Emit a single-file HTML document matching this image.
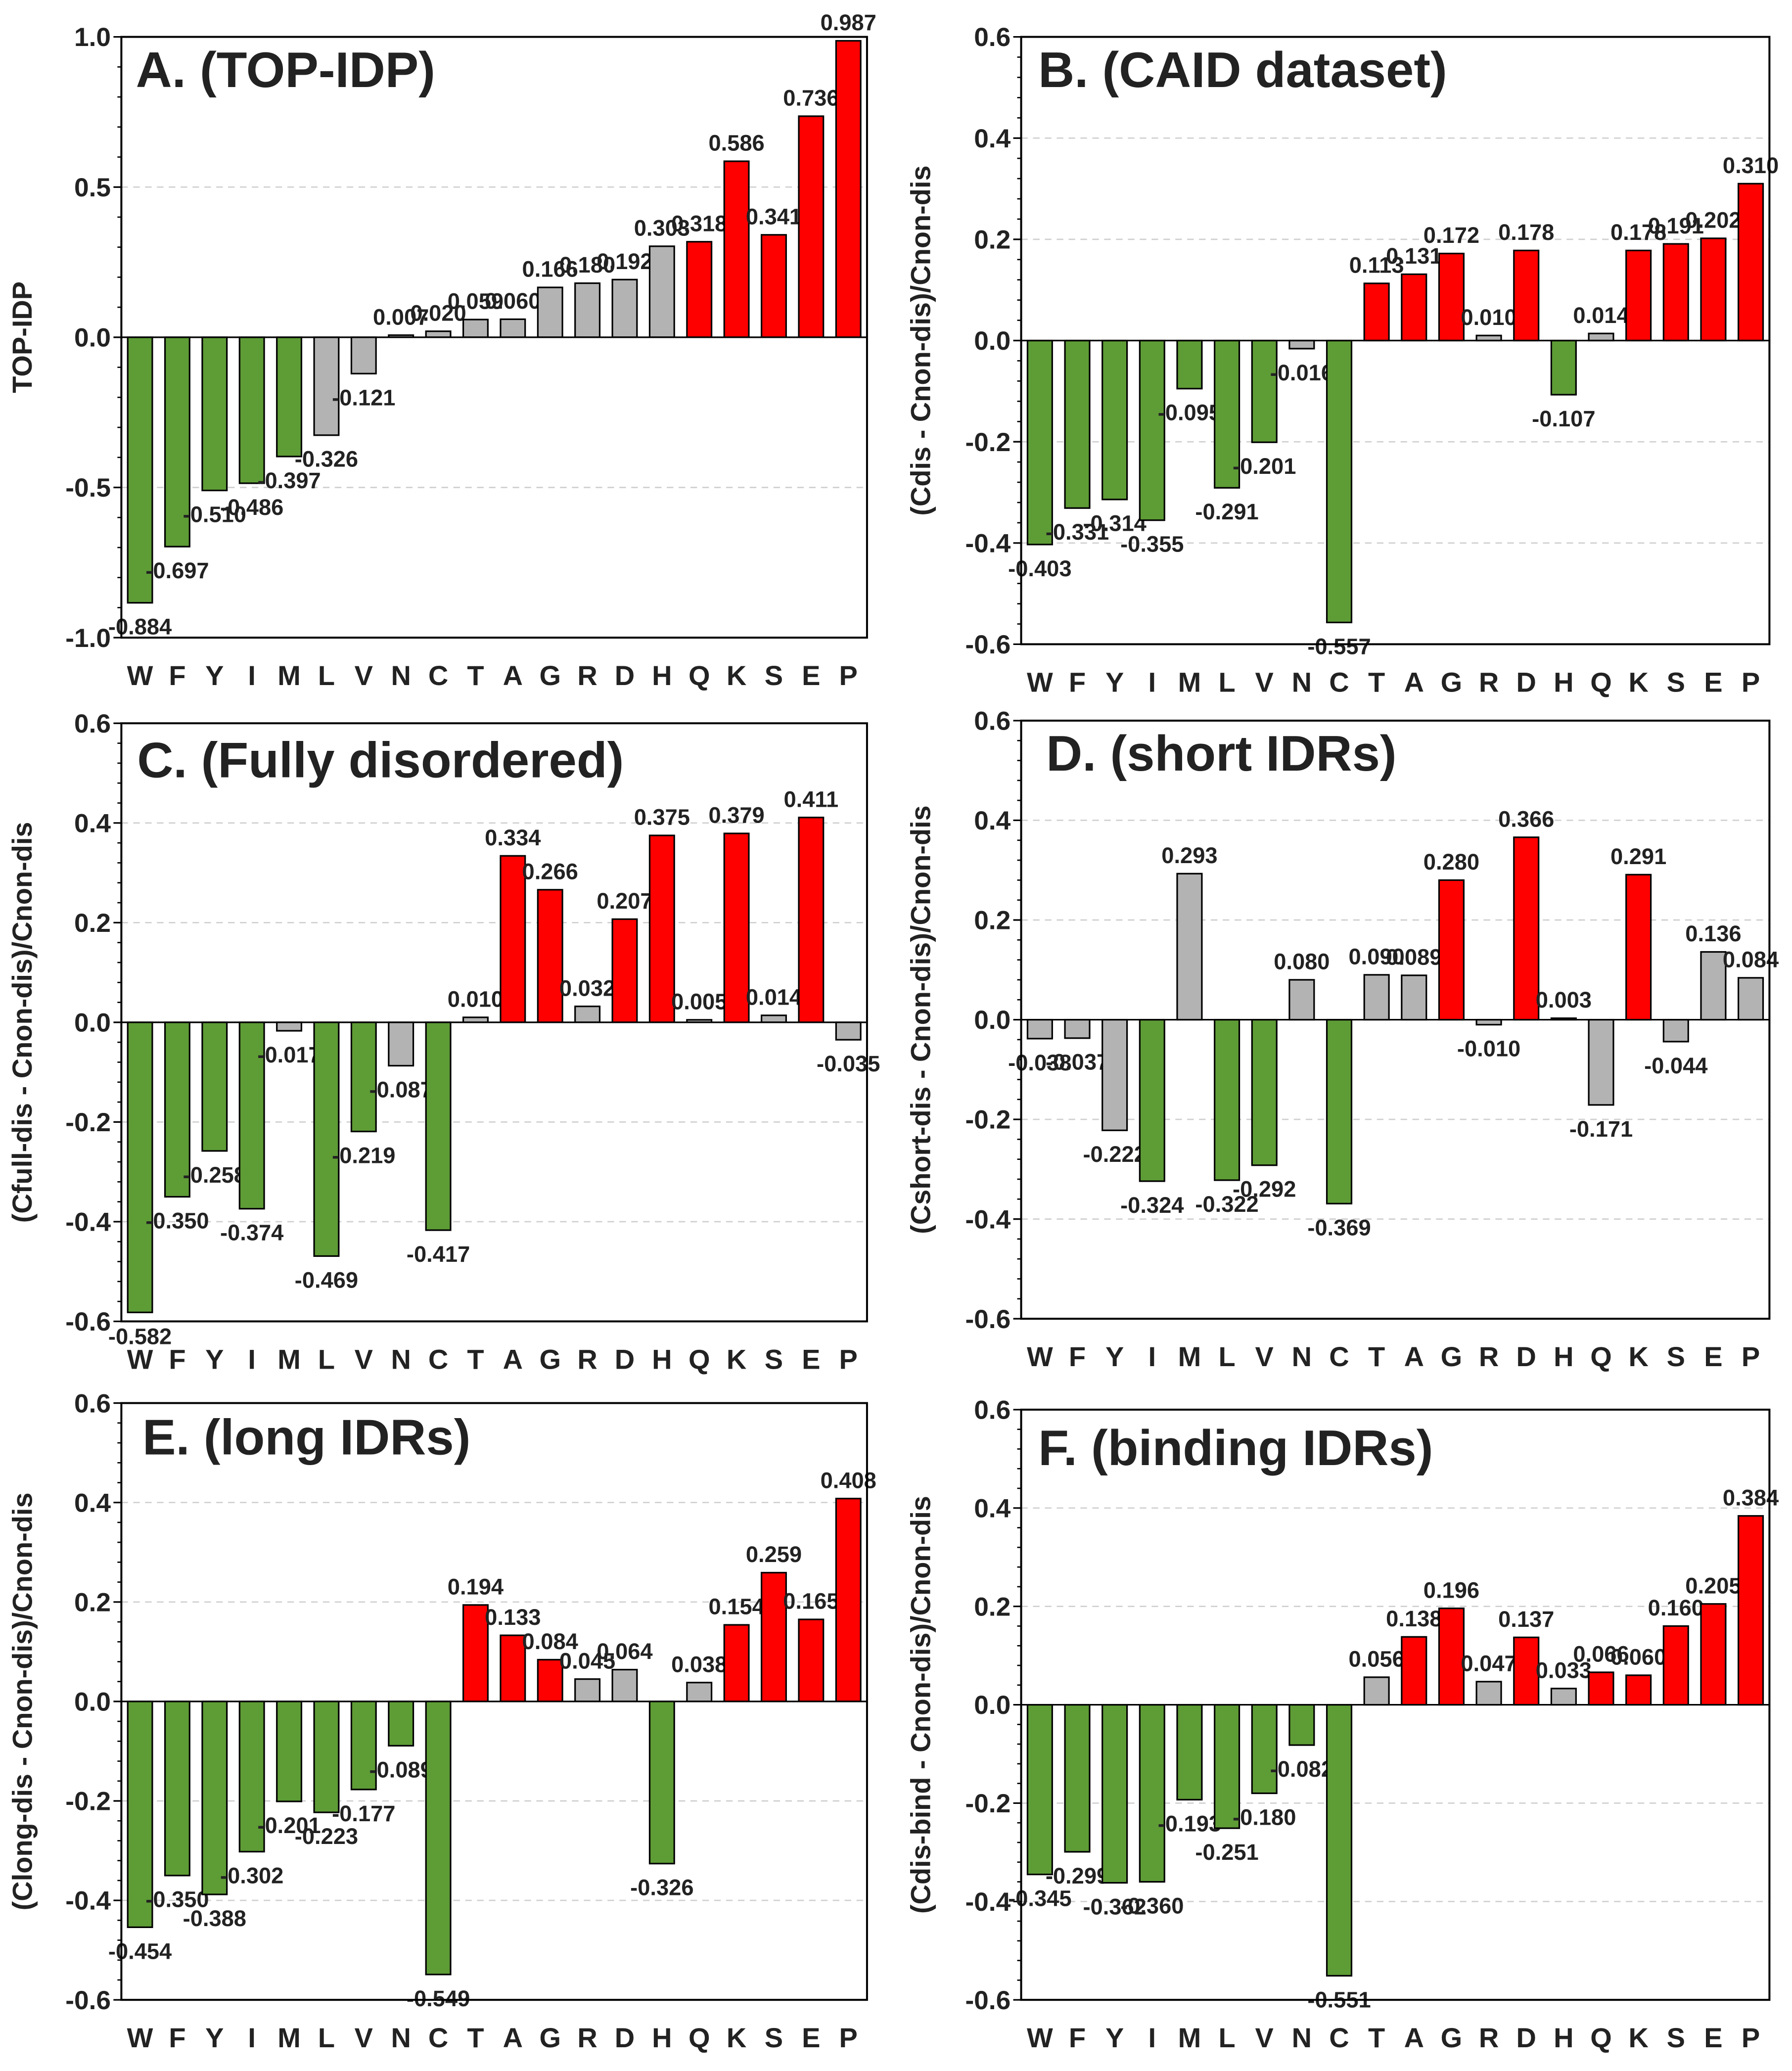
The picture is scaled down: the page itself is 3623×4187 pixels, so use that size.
<!DOCTYPE html>
<html><head><meta charset="utf-8"><style>
html,body{margin:0;padding:0;background:#fff}
svg{display:block}
text{font-family:"Liberation Sans",sans-serif;font-weight:bold;fill:#222}
</style></head><body>
<svg id="chart" width="3623" height="4187" viewBox="0 0 1360 1572" xmlns="http://www.w3.org/2000/svg"></svg>
<script>
const categories=["W","F","Y","I","M","L","V","N","C","T","A","G","R","D","H","Q","K","S","E","P"];
const valuesA=[-0.884,-0.697,-0.510,-0.486,-0.397,-0.326,-0.121,0.007,0.020,0.059,0.060,0.166,0.180,0.192,0.303,0.318,0.586,0.341,0.736,0.987];
const classA=["g","g","g","g","g","n","n","n","n","n","n","n","n","n","n","r","r","r","r","r"];
const valuesB=[-0.403,-0.331,-0.314,-0.355,-0.095,-0.291,-0.201,-0.016,-0.557,0.113,0.131,0.172,0.010,0.178,-0.107,0.014,0.178,0.191,0.202,0.310];
const classB=["g","g","g","g","g","g","g","n","g","r","r","r","n","r","g","n","r","r","r","r"];
const valuesC=[-0.582,-0.350,-0.258,-0.374,-0.017,-0.469,-0.219,-0.087,-0.417,0.010,0.334,0.266,0.032,0.207,0.375,0.005,0.379,0.014,0.411,-0.035];
const classC=["g","g","g","g","n","g","g","n","g","n","r","r","n","r","r","n","r","n","r","n"];
const valuesD=[-0.038,-0.037,-0.222,-0.324,0.293,-0.322,-0.292,0.080,-0.369,0.090,0.089,0.280,-0.010,0.366,0.003,-0.171,0.291,-0.044,0.136,0.084];
const classD=["n","n","n","g","n","g","g","n","g","n","n","r","n","r","n","n","r","n","n","n"];
const valuesE=[-0.454,-0.350,-0.388,-0.302,-0.201,-0.223,-0.177,-0.089,-0.549,0.194,0.133,0.084,0.045,0.064,-0.326,0.038,0.154,0.259,0.165,0.408];
const classE=["g","g","g","g","g","g","g","g","g","r","r","r","n","n","g","n","r","r","r","r"];
const valuesF=[-0.345,-0.299,-0.362,-0.360,-0.193,-0.251,-0.180,-0.082,-0.551,0.056,0.138,0.196,0.047,0.137,0.033,0.066,0.060,0.160,0.205,0.384];
const classF=["g","g","g","g","g","g","g","g","g","n","r","r","n","r","n","r","r","r","r","r"];
const ticksA=["1.0","0.5","0.0","-0.5","-1.0"];
const ticksOther=["0.6","0.4","0.2","0.0","-0.2","-0.4","-0.6"];

const NS="http://www.w3.org/2000/svg";
const svg=document.getElementById("chart");
const COL={g:"#5e9c36",r:"#ff0000",n:"#b3b3b3"};
function mk(tag,attrs,parent){const e=document.createElementNS(NS,tag);for(const k in attrs)e.setAttribute(k,attrs[k]);(parent||svg).appendChild(e);return e;}

const panels=[
 {id:"a",x0:92,x1:658,yTop:28,yBot:484,max:1,min:-1,ticks:ticksA,vals:valuesA,cls:classA,title:"A. (TOP-IDP)",tx:103,ty:66,ytitle:"TOP-IDP",ytx:24},
 {id:"b",x0:775,x1:1343,yTop:28,yBot:489,max:0.6,min:-0.6,ticks:ticksOther,vals:valuesB,cls:classB,title:"B. (CAID dataset)",tx:788,ty:66,ytitle:"(Cdis - Cnon-dis)/Cnon-dis",ytx:706},
 {id:"c",x0:92,x1:658,yTop:549,yBot:1003,max:0.6,min:-0.6,ticks:ticksOther,vals:valuesC,cls:classC,title:"C. (Fully disordered)",tx:104,ty:590,ytitle:"(Cfull-dis - Cnon-dis)/Cnon-dis",ytx:24},
 {id:"d",x0:775,x1:1343,yTop:547,yBot:1001,max:0.6,min:-0.6,ticks:ticksOther,vals:valuesD,cls:classD,title:"D. (short IDRs)",tx:794,ty:585,ytitle:"(Cshort-dis - Cnon-dis)/Cnon-dis",ytx:706},
 {id:"e",x0:92,x1:658,yTop:1065,yBot:1518,max:0.6,min:-0.6,ticks:ticksOther,vals:valuesE,cls:classE,title:"E. (long IDRs)",tx:108,ty:1104,ytitle:"(Clong-dis - Cnon-dis)/Cnon-dis",ytx:24},
 {id:"f",x0:775,x1:1343,yTop:1070,yBot:1518,max:0.6,min:-0.6,ticks:ticksOther,vals:valuesF,cls:classF,title:"F. (binding IDRs)",tx:788,ty:1112,ytitle:"(Cdis-bind - Cnon-dis)/Cnon-dis",ytx:706}
];

panels.forEach(p=>{
 const g=mk("g",{});
 
 
 const y=v=>p.yTop+(p.max-v)/(p.max-p.min)*(p.yBot-p.yTop);
 const band=(p.x1-p.x0)/categories.length;
 const xc=i=>p.x0+band*(i+0.5);
 // gridlines & ticks
 p.ticks.forEach(t=>{
  const v=parseFloat(t), yy=y(v);
  if(v!==p.max&&v!==p.min){
   const gl=mk("line",{x1:p.x0,x2:p.x1,y1:yy,y2:yy,stroke:"#cfcfcf","stroke-width":1,"stroke-dasharray":"5,4"},g);
   
   
  }
  const tl=mk("text",{x:p.x0-8,y:yy+7,"text-anchor":"end","font-size":20},g);
  tl.textContent=t;
  
  
  mk("line",{x1:p.x0-6,x2:p.x0,y1:yy,y2:yy,stroke:"#000","stroke-width":1.2},g);
 });
 // minor ticks
 const step=(parseFloat(p.ticks[0])-parseFloat(p.ticks[1]))/5;
 for(let v=p.min;v<=p.max+1e-9;v+=step){mk("line",{x1:p.x0-3,x2:p.x0,y1:y(v),y2:y(v),stroke:"#000","stroke-width":1},g);}
 // bars
 p.vals.forEach((v,i)=>{
  const bw=band*0.66, y0=y(0), yv=y(v);
  const r=mk("rect",{x:xc(i)-bw/2,y:Math.min(y0,yv),width:bw,height:Math.max(Math.abs(yv-y0),0.8),fill:COL[p.cls[i]],stroke:"#000","stroke-width":1.2},g);
  
  
  const lab=mk("text",{x:xc(i),y:v>=0?yv-8:yv+24,"text-anchor":"middle","font-size":17},g);
  lab.textContent=v.toFixed(3);
  
  
  const cl=mk("text",{x:xc(i),y:p.yBot+36,"text-anchor":"middle","font-size":21},g);
  cl.textContent=categories[i];
  
  
 });
 // zero axis line
 mk("line",{x1:p.x0,x2:p.x1,y1:y(0),y2:y(0),stroke:"#000","stroke-width":1.2},g);
 // frame
 const fr=mk("rect",{x:p.x0,y:p.yTop,width:p.x1-p.x0,height:p.yBot-p.yTop,fill:"none",stroke:"#000","stroke-width":1.5},g);
 
 
 const tt=mk("text",{x:p.tx,y:p.ty,"font-size":38},g);
 tt.textContent=p.title;
 
 
 const cy=(p.yTop+p.yBot)/2;
 const yt=mk("text",{x:p.ytx,y:cy,"text-anchor":"middle","font-size":21,transform:"rotate(-90 "+p.ytx+" "+cy+")"},g);
 yt.textContent=p.ytitle;
 
 
});
</script>
</body></html>
